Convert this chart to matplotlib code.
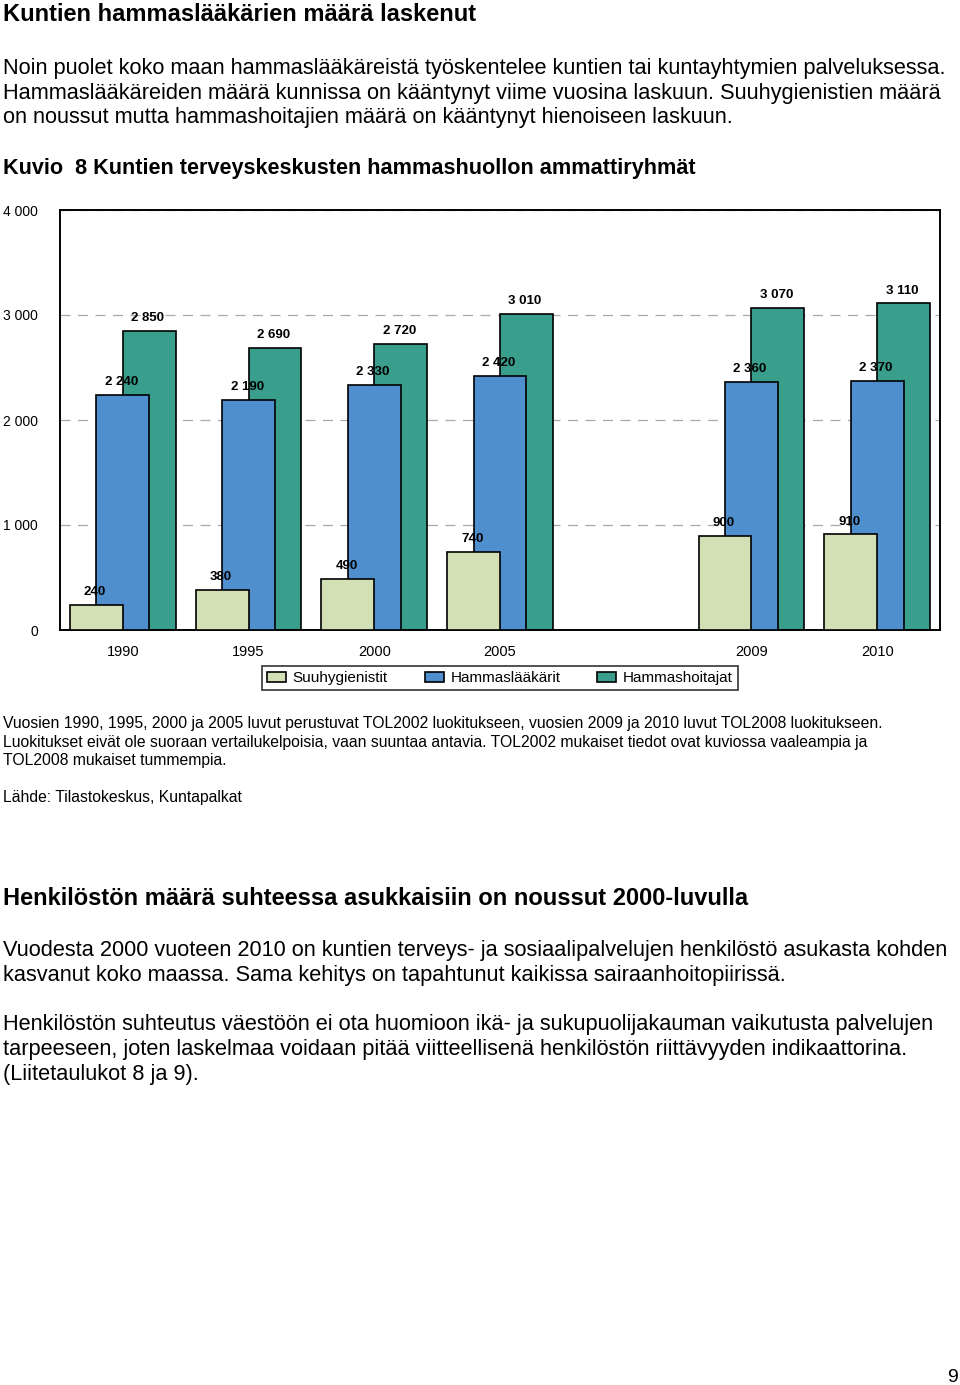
import numpy as np
import matplotlib
matplotlib.use("Agg")
import matplotlib.pyplot as plt
from matplotlib import font_manager

# Data
years = ["1990", "1995", "2000", "2005", "", "2009", "2010"]
suuhygienistit = [240, 380, 490, 740, np.nan, 900, 910]
hammaslaakarit = [2240, 2190, 2330, 2420, np.nan, 2360, 2370]
hammashoitajat = [2850, 2690, 2720, 3010, np.nan, 3070, 3110]
series_names = ["Suuhygienistit", "Hammaslääkärit", "Hammashoitajat"]
y_ticks = [0, 1000, 2000, 3000, 4000]

W, H = 960, 1385
names = {f.name for f in font_manager.fontManager.ttflist}
body = "Liberation Sans" if "Liberation Sans" in names else "DejaVu Sans"
narrow = "Liberation Sans Narrow" if "Liberation Sans Narrow" in names else body
plt.rcParams["font.family"] = [body, "DejaVu Sans"]

fig = plt.figure(figsize=(W / 100, H / 100), dpi=100)


def put(x, y, s, **kw):
    # x, y in pixels from top-left, y is the baseline
    fig.text(x / W, 1 - y / H, s, va="baseline", ha=kw.pop("ha", "left"), **kw)


# Page text above the chart
put(3, 21, "Kuntien hammaslääkärien määrä laskenut", fontsize=17, fontweight="bold")
para1 = ["Noin puolet koko maan hammaslääkäreistä työskentelee kuntien tai kuntayhtymien palveluksessa.",
         "Hammaslääkäreiden määrä kunnissa on kääntynyt viime vuosina laskuun. Suuhygienistien määrä",
         "on noussut mutta hammashoitajien määrä on kääntynyt hienoiseen laskuun."]
for i, line in enumerate(para1):
    put(3, 74 + i * 24.5, line, fontsize=15.7)
put(3, 174, "Kuvio  8 Kuntien terveyskeskusten hammashuollon ammattiryhmät", fontsize=15.6, fontweight="bold")

# Chart
ax = fig.add_axes([60 / W, 1 - 630 / H, 880 / W, 420 / H])
x = np.arange(len(years))
bw = 0.42
off = 0.21
colors = ["#d3e0b6", "#4f8fce", "#3a9e8c"]
ax.bar(x + off, hammashoitajat, bw, color=colors[2], edgecolor="black", linewidth=1.2, zorder=2, label=series_names[2])
ax.bar(x, hammaslaakarit, bw, color=colors[1], edgecolor="black", linewidth=1.2, zorder=3, label=series_names[1])
ax.bar(x - off, suuhygienistit, bw, color=colors[0], edgecolor="black", linewidth=1.2, zorder=4, label=series_names[0])

for vals, dx in [(suuhygienistit, -off), (hammaslaakarit, 0), (hammashoitajat, off)]:
    for xi, v in zip(x, vals):
        if np.isnan(v):
            continue
        ax.annotate(f"{v:,.0f}".replace(",", " "), (xi + dx, v), xytext=(-1, 5),
                    textcoords="offset points", ha="center", va="bottom",
                    fontsize=9.5, fontweight="bold", family=narrow, zorder=6)

ax.set_xlim(-0.5, len(years) - 0.5)
ax.set_ylim(0, 4000)
ax.set_yticks(y_ticks)
ax.set_yticklabels([f"{v:,.0f}".replace(",", " ") for v in y_ticks], fontsize=10, family=narrow)
ax.set_xticks(x)
ax.set_xticklabels(years, fontsize=10.5, family=narrow)
ax.tick_params(axis="both", length=0)
ax.tick_params(axis="y", pad=16)
ax.tick_params(axis="x", pad=11)
ax.yaxis.grid(True, color="#a8a8a8", linestyle=(0, (8, 6)), linewidth=0.9, zorder=0)
ax.set_axisbelow(True)
for s in ax.spines.values():
    s.set_linewidth(1.4)

handles, labels = ax.get_legend_handles_labels()
order = [2, 1, 0]
leg = fig.legend([handles[i] for i in order], [labels[i] for i in order],
                 loc="center", bbox_to_anchor=(500 / W, 1 - 678 / H), ncol=3,
                 frameon=True, fancybox=False, edgecolor="black",
                 handlelength=1.25, handleheight=0.65, handletextpad=0.45,
                 columnspacing=2.4, borderpad=0.3, prop={"family": narrow, "size": 11})
leg.get_frame().set_linewidth(1.2)

# Notes under the chart
notes = ["Vuosien 1990, 1995, 2000 ja 2005 luvut perustuvat TOL2002 luokitukseen, vuosien 2009 ja 2010 luvut TOL2008 luokitukseen.",
         "Luokitukset eivät ole suoraan vertailukelpoisia, vaan suuntaa antavia. TOL2002 mukaiset tiedot ovat kuviossa vaaleampia ja",
         "TOL2008 mukaiset tummempia."]
for i, line in enumerate(notes):
    put(3, 728 + i * 18.5, line, fontsize=11.3, family=narrow)
put(3, 802, "Lähde: Tilastokeskus, Kuntapalkat", fontsize=11.3, family=narrow)

# Second section
put(3, 905, "Henkilöstön määrä suhteessa asukkaisiin on noussut 2000-luvulla", fontsize=17, fontweight="bold")
para2 = ["Vuodesta 2000 vuoteen 2010 on kuntien terveys- ja sosiaalipalvelujen henkilöstö asukasta kohden",
         "kasvanut koko maassa. Sama kehitys on tapahtunut kaikissa sairaanhoitopiirissä."]
for i, line in enumerate(para2):
    put(3, 956 + i * 24.5, line, fontsize=15.7)
para3 = ["Henkilöstön suhteutus väestöön ei ota huomioon ikä- ja sukupuolijakauman vaikutusta palvelujen",
         "tarpeeseen, joten laskelmaa voidaan pitää viitteellisenä henkilöstön riittävyyden indikaattorina.",
         "(Liitetaulukot 8 ja 9)."]
for i, line in enumerate(para3):
    put(3, 1030 + i * 25, line, fontsize=15.7)

put(958, 1382, "9", fontsize=14, ha="right")

fig.savefig("out.png", dpi=100)
